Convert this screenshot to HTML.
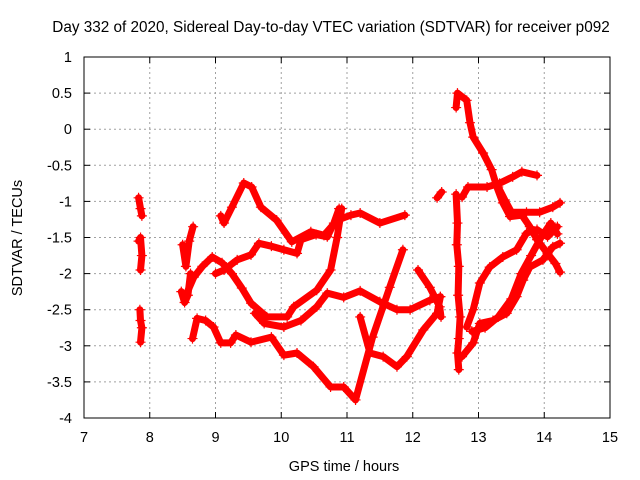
<!DOCTYPE html>
<html><head><meta charset="utf-8"><style>
body{margin:0;background:#fff}
svg{display:block;font-family:"Liberation Sans",sans-serif}
</style></head><body>
<svg id="chart" width="640" height="480">
<rect width="640" height="480" fill="#fff"/>
<text x="331" y="32" font-size="15.3" text-anchor="middle">Day 332 of 2020, Sidereal Day-to-day VTEC variation (SDTVAR) for receiver p092</text>
<text x="344" y="471" font-size="14.5" text-anchor="middle">GPS time / hours</text>
<text x="0" y="0" font-size="14.5" text-anchor="middle" transform="translate(22,238) rotate(-90)">SDTVAR / TECUs</text>
<g id="grid"></g>
<g id="axes"></g>
<g id="marks"></g>
<rect x="84" y="57" width="526" height="361" fill="none" stroke="#000" stroke-width="1"/>
</svg>
<script>
const xTicks=[7,8,9,10,11,12,13,14,15];
const yTicks=[1,0.5,0,-0.5,-1,-1.5,-2,-2.5,-3,-3.5,-4];
const yTickLabels=["1","0.5","0","-0.5","-1","-1.5","-2","-2.5","-3","-3.5","-4"];
const tA=[9.08,9.13,9.25,9.43,9.55,9.69,9.93,10.16,10.45,10.65,10.85,11.06,11.2,11.5,11.88];
const vA=[-1.2,-1.3,-1.08,-0.745,-0.8,-1.08,-1.26,-1.56,-1.42,-1.47,-1.26,-1.19,-1.16,-1.3,-1.19];
const tB=[9.0,9.13,9.33,9.54,9.66,9.85,10.04,10.24,10.3,10.53,10.7,10.8,10.88];
const vB=[-2.0,-1.95,-1.81,-1.74,-1.58,-1.62,-1.67,-1.72,-1.53,-1.46,-1.49,-1.3,-1.1];
const tC=[8.55,8.67,8.8,8.95,9.1,9.25,9.4,9.54,9.78,10.09,10.19,10.54,10.75,10.85,10.92];
const vC=[-2.3,-2.05,-1.9,-1.77,-1.85,-2.0,-2.2,-2.41,-2.6,-2.6,-2.46,-2.23,-1.95,-1.5,-1.1];
const tD=[9.6,9.74,10.04,10.3,10.54,10.7,10.95,11.2,11.5,11.76,11.96,12.26,12.42];
const vD=[-2.55,-2.69,-2.74,-2.65,-2.46,-2.27,-2.33,-2.24,-2.39,-2.5,-2.5,-2.37,-2.32];
const tE=[8.65,8.72,8.85,8.97,9.08,9.23,9.31,9.54,9.85,10.04,10.24,10.49,10.75,10.95,11.13,11.39,11.65,11.85];
const vE=[-2.9,-2.62,-2.65,-2.74,-2.96,-2.96,-2.85,-2.95,-2.88,-3.13,-3.1,-3.29,-3.57,-3.57,-3.75,-2.88,-2.19,-1.67];
const tF=[11.2,11.35,11.55,11.76,11.91,12.16,12.37,12.42];
const vF=[-2.6,-3.1,-3.15,-3.29,-3.15,-2.78,-2.55,-2.32];
const tG=[12.08,12.26,12.41,12.43];
const vG=[-1.95,-2.19,-2.46,-2.6];
const tS=[12.37,12.44];
const vS=[-0.95,-0.87];
const tV=[12.66,12.68,12.67,12.7,12.69,12.72,12.7,12.68,12.7];
const vV=[-0.9,-1.3,-1.6,-1.9,-2.3,-2.6,-2.9,-3.1,-3.33];
const tH=[12.66,12.68,12.82,12.87,12.92,13.07,13.2,13.28,13.37,13.48,13.66,13.78,13.89,14.05,14.17,14.24];
const vH=[0.3,0.5,0.4,0.09,-0.11,-0.33,-0.56,-0.8,-1.02,-1.21,-1.19,-1.35,-1.53,-1.72,-1.86,-1.98];
const tI=[12.75,12.84,13.13,13.32,13.52,13.66,13.89];
const vI=[-0.94,-0.8,-0.8,-0.75,-0.66,-0.59,-0.64];
const tJ=[13.3,13.4,13.5,13.73,13.93,14.13,14.24];
const vJ=[-0.8,-0.98,-1.15,-1.15,-1.15,-1.08,-1.02];
const tK=[12.82,12.92,13.02,13.17,13.37,13.58,13.73,13.89,14.05,14.2];
const vK=[-2.74,-2.5,-2.13,-1.91,-1.77,-1.67,-1.44,-1.39,-1.49,-1.35];
const tL=[12.75,12.92,13.02,13.22,13.43,13.58,13.68,13.78,13.98,14.13,14.24];
const vL=[-3.15,-2.96,-2.69,-2.65,-2.55,-2.32,-2.09,-1.91,-1.81,-1.63,-1.58];
const tM=[12.9,13.1,13.3,13.5,13.65,13.8,13.95,14.1,14.2];
const vM=[-2.8,-2.75,-2.6,-2.35,-2.0,-1.75,-1.5,-1.3,-1.45];
const tP1=[7.83,7.86,7.88];const vP1=[-0.95,-1.1,-1.2];
const tP2=[7.83,7.86,7.88,7.86];const vP2=[-1.55,-1.5,-1.75,-1.95];
const tP3=[7.85,7.86,7.88,7.86];const vP3=[-2.5,-2.65,-2.75,-2.95];
const tQ1=[8.5,8.55,8.6,8.66];const vQ1=[-1.6,-1.9,-1.55,-1.35];
const tQ2=[8.48,8.53,8.58,8.62];const vQ2=[-2.25,-2.4,-2.3,-2.0];

const series=[[tA,vA],[tB,vB],[tC,vC],[tD,vD],[tE,vE],[tF,vF],[tG,vG],[tS,vS],[tV,vV],[tH,vH],[tI,vI],[tJ,vJ],[tK,vK],[tL,vL],[tM,vM],[tP1,vP1],[tP2,vP2],[tP3,vP3],[tQ1,vQ1],[tQ2,vQ2]];
const NS='http://www.w3.org/2000/svg';
const X0=84,X1=610,Y0=57,Y1=418;
function xs(t){return X0+(t-7)/8*(X1-X0);}
function ys(v){return Y0+(1-v)/5*(Y1-Y0);}
function mk(tag,attrs,parent){const e=document.createElementNS(NS,tag);for(const k in attrs)e.setAttribute(k,attrs[k]);parent.appendChild(e);return e;}
const grid=document.getElementById('grid'),axes=document.getElementById('axes'),marks=document.getElementById('marks');
xTicks.forEach((t,i)=>{
  const x=xs(t);
  if(i>0&&i<xTicks.length-1){const g=mk('line',{x1:x,x2:x,y1:Y0,y2:Y1,stroke:'#a0a0a0','stroke-dasharray':'2,3'},grid);
  
  }
  mk('line',{x1:x,x2:x,y1:Y1,y2:Y1-6,stroke:'#000'},axes);
  mk('line',{x1:x,x2:x,y1:Y0,y2:Y0+6,stroke:'#000'},axes);
  const l=mk('text',{x:x,y:442,'font-size':14.5,'text-anchor':'middle'},axes);
  l.textContent=String(t);
  
  
});
yTicks.forEach((v,i)=>{
  const y=ys(v);
  if(i>0&&i<yTicks.length-1){const g=mk('line',{x1:X0,x2:X1,y1:y,y2:y,stroke:'#a0a0a0','stroke-dasharray':'2,3'},grid);
  
  }
  mk('line',{x1:X0,x2:X0+6,y1:y,y2:y,stroke:'#000'},axes);
  mk('line',{x1:X1,x2:X1-6,y1:y,y2:y,stroke:'#000'},axes);
  const l=mk('text',{x:72,y:y+5,'font-size':14.5,'text-anchor':'end'},axes);
  l.textContent=yTickLabels[i];
  
  
});
series.forEach((s,si)=>{
  const [ts,vs]=s;
  const pts=ts.map((t,i)=>xs(t).toFixed(1)+','+ys(vs[i]).toFixed(1)).join(' ');
  const pl=mk('polyline',{points:pts,fill:'none',stroke:'#ff0000','stroke-width':7,'stroke-linejoin':'round','stroke-linecap':'round'},marks);
  
  
  ts.forEach((t,i)=>{
    const x=xs(t),y=ys(vs[i]);
    const p=mk('path',{d:`M${x-5},${y}H${x+5}M${x},${y-5}V${y+5}`,stroke:'#ff0000','stroke-width':1.2},marks);
    
    
  });
});
</script>
</body></html>
